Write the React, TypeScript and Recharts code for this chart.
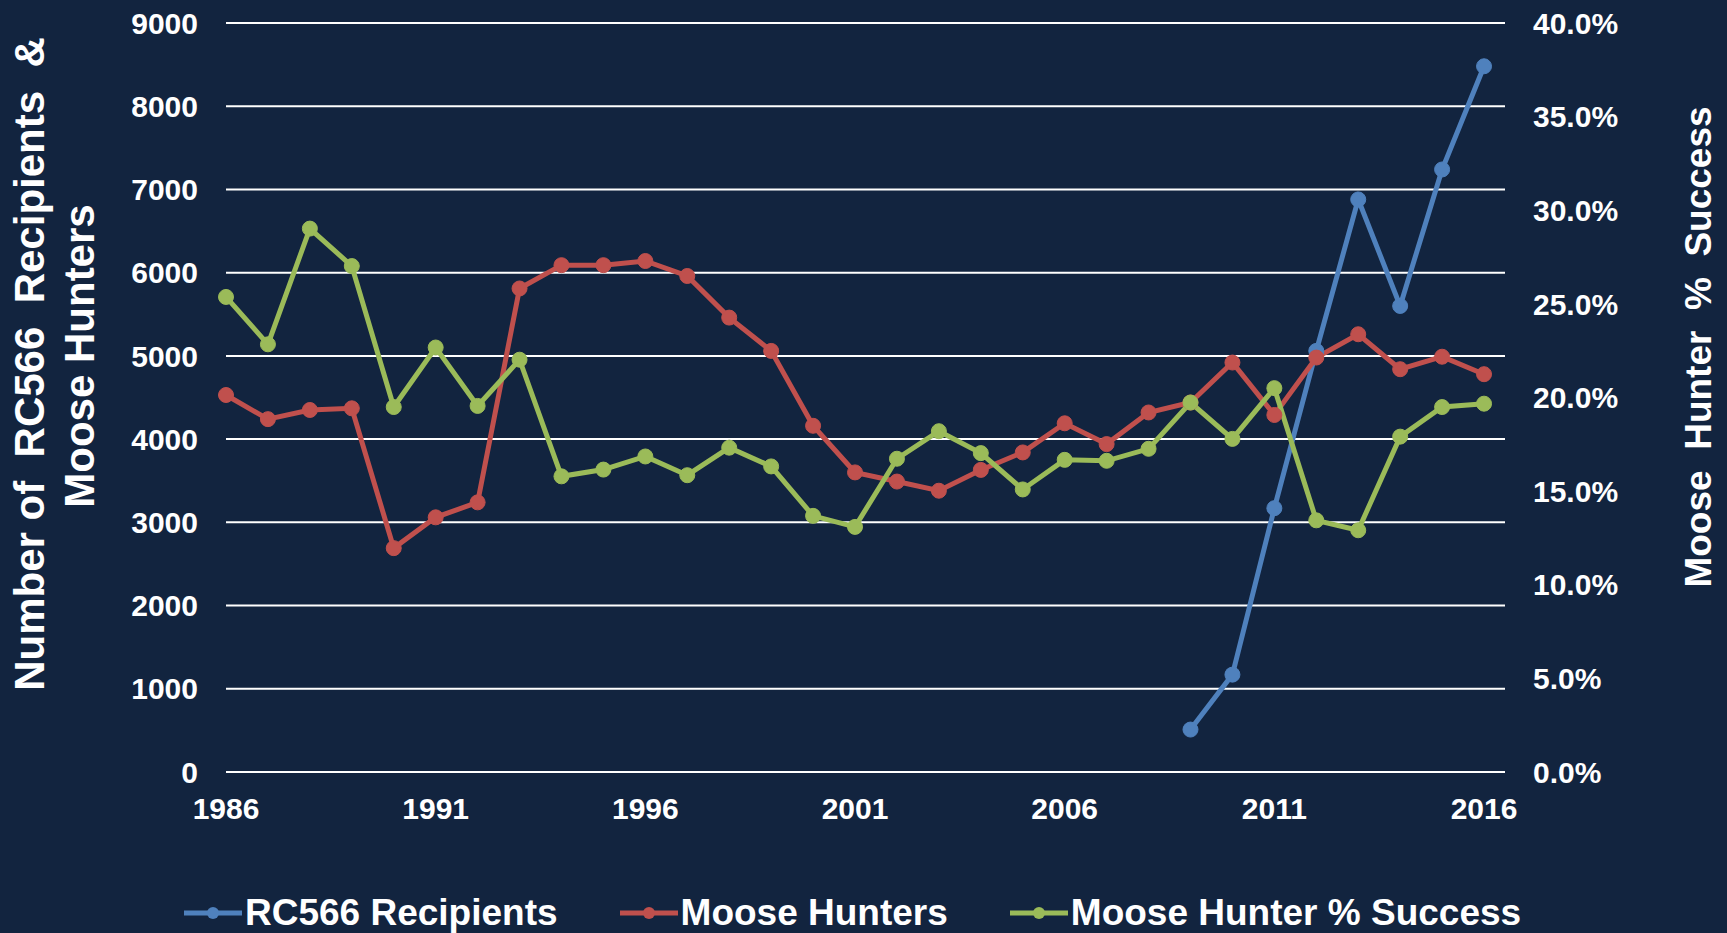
import React from 'react';
import { LineChart, Line, XAxis, YAxis, CartesianGrid, Legend } from 'recharts';

const years = [1986, 1987, 1988, 1989, 1990, 1991, 1992, 1993, 1994, 1995, 1996, 1997, 1998, 1999, 2000, 2001, 2002, 2003, 2004, 2005, 2006, 2007, 2008, 2009, 2010, 2011, 2012, 2013, 2014, 2015, 2016];

const rc566Recipients: (number | null)[] = [null, null, null, null, null, null, null, null, null, null, null, null, null, null, null, null, null, null, null, null, null, null, null, 510, 1170, 3170, 5060, 6880, 5600, 7240, 8480];

const mooseHunters = [4530, 4240, 4350, 4370, 2690, 3060, 3240, 5810, 6090, 6090, 6140, 5960, 5460, 5060, 4160, 3600, 3490, 3380, 3630, 3840, 4190, 3940, 4320, 4440, 4920, 4290, 4980, 5260, 4840, 4990, 4780];

const successPct = [0.2537, 0.2284, 0.2902, 0.2702, 0.1949, 0.2267, 0.1955, 0.2202, 0.1579, 0.1615, 0.1685, 0.1585, 0.1732, 0.1632, 0.1368, 0.1309, 0.1673, 0.182, 0.1703, 0.1509, 0.1667, 0.1662, 0.1726, 0.1973, 0.1779, 0.205, 0.1344, 0.1291, 0.1791, 0.1949, 0.1967];

const xTicks = [1986, 1991, 1996, 2001, 2006, 2011, 2016];
const leftTicks = [0, 1000, 2000, 3000, 4000, 5000, 6000, 7000, 8000, 9000];
const rightTicks = [0, 0.05, 0.1, 0.15, 0.2, 0.25, 0.3, 0.35, 0.4];

const seriesNames = ['RC566 Recipients', 'Moose Hunters', 'Moose Hunter % Success'];
const seriesColors = ['#4F81BD', '#C0504D', '#9BBB59'];

const data = years.map((year, i) => ({
  year,
  rc566: rc566Recipients[i],
  hunters: mooseHunters[i],
  success: successPct[i],
}));

const FONT = '"Liberation Sans", Arial, Helvetica, sans-serif';
const BG = '#12243F';

const tickStyle = { fill: '#ffffff', fontSize: 30, fontWeight: 'bold' as const, fontFamily: FONT };

const renderLegend = () => (
  <div
    style={{
      display: 'flex',
      alignItems: 'center',
      height: 50,
      paddingLeft: 184,
      paddingTop: 10,
      fontFamily: FONT,
      fontWeight: 'bold',
      fontSize: 37,
      color: '#ffffff',
      boxSizing: 'border-box',
    }}
  >
    {seriesNames.map((name, i) => (
      <div key={name} style={{ display: 'flex', alignItems: 'center', marginRight: 62, lineHeight: '40px' }}>
        <svg width={58} height={20} style={{ marginRight: 3 }}>
          <line x1={0} y1={10} x2={58} y2={10} stroke={seriesColors[i]} strokeWidth={5} />
          <circle cx={29} cy={10} r={6} fill={seriesColors[i]} />
        </svg>
        <span>{name}</span>
      </div>
    ))}
  </div>
);

const leftLabel = () => (
  <g>
    <text
      x={44}
      y={364}
      transform="rotate(-90, 44, 364)"
      textAnchor="middle"
      fill="#ffffff"
      fontSize={42}
      fontWeight="bold"
      fontFamily={FONT}
    >
      {'Number of\u00A0\u00A0RC566\u00A0\u00A0Recipients\u00A0\u00A0&'}
    </text>
    <text
      x={94}
      y={356}
      transform="rotate(-90, 94, 356)"
      textAnchor="middle"
      fill="#ffffff"
      fontSize={42}
      fontWeight="bold"
      fontFamily={FONT}
    >
      Moose Hunters
    </text>
  </g>
);

const rightLabel = () => (
  <text
    x={1711}
    y={347}
    transform="rotate(-90, 1711, 347)"
    textAnchor="middle"
    fill="#ffffff"
    fontSize={37}
    fontWeight="bold"
    fontFamily={FONT}
  >
    {'Moose\u00A0\u00A0Hunter\u00A0\u00A0%\u00A0\u00A0Success'}
  </text>
);

export default function App() {
  return (
    <div style={{ position: 'absolute', left: 0, top: 0, width: 1727, height: 933, background: BG }}>
      <LineChart
        width={1727}
        height={933}
        data={data}
        margin={{ top: 23, right: 0, bottom: 0, left: 0 }}
        style={{ background: BG }}
      >
        <CartesianGrid yAxisId="left" vertical={false} stroke="#ffffff" strokeWidth={2} />
        <XAxis
          dataKey="year"
          type="number"
          domain={[1986, 2016.5]}
          ticks={xTicks}
          axisLine={false}
          tickLine={false}
          tickSize={0}
          tickMargin={26}
          height={111}
          tick={tickStyle}
          interval={0}
        />
        <YAxis
          yAxisId="left"
          orientation="left"
          domain={[0, 9000]}
          ticks={leftTicks}
          axisLine={false}
          tickLine={false}
          tickSize={0}
          tickMargin={28}
          width={226}
          tick={tickStyle}
          interval={0}
          label={{ content: leftLabel }}
        />
        <YAxis
          yAxisId="right"
          orientation="right"
          domain={[0, 0.4]}
          ticks={rightTicks}
          axisLine={false}
          tickLine={false}
          tickSize={0}
          tickMargin={28}
          width={222}
          tick={tickStyle}
          interval={0}
          tickFormatter={(v: number) => `${(v * 100).toFixed(1)}%`}
          label={{ content: rightLabel }}
        />
        <Legend verticalAlign="bottom" content={renderLegend} wrapperStyle={{ left: 0, width: 1727 }} />
        <Line
          yAxisId="left"
          dataKey="rc566"
          name={seriesNames[0]}
          stroke={seriesColors[0]}
          strokeWidth={5}
          dot={{ r: 7.5, fill: seriesColors[0], stroke: seriesColors[0], strokeWidth: 1 }}
          isAnimationActive={false}
          connectNulls={false}
        />
        <Line
          yAxisId="left"
          dataKey="hunters"
          name={seriesNames[1]}
          stroke={seriesColors[1]}
          strokeWidth={5}
          dot={{ r: 7.5, fill: seriesColors[1], stroke: seriesColors[1], strokeWidth: 1 }}
          isAnimationActive={false}
        />
        <Line
          yAxisId="right"
          dataKey="success"
          name={seriesNames[2]}
          stroke={seriesColors[2]}
          strokeWidth={5}
          dot={{ r: 7.5, fill: seriesColors[2], stroke: seriesColors[2], strokeWidth: 1 }}
          isAnimationActive={false}
        />
      </LineChart>
    </div>
  );
}
